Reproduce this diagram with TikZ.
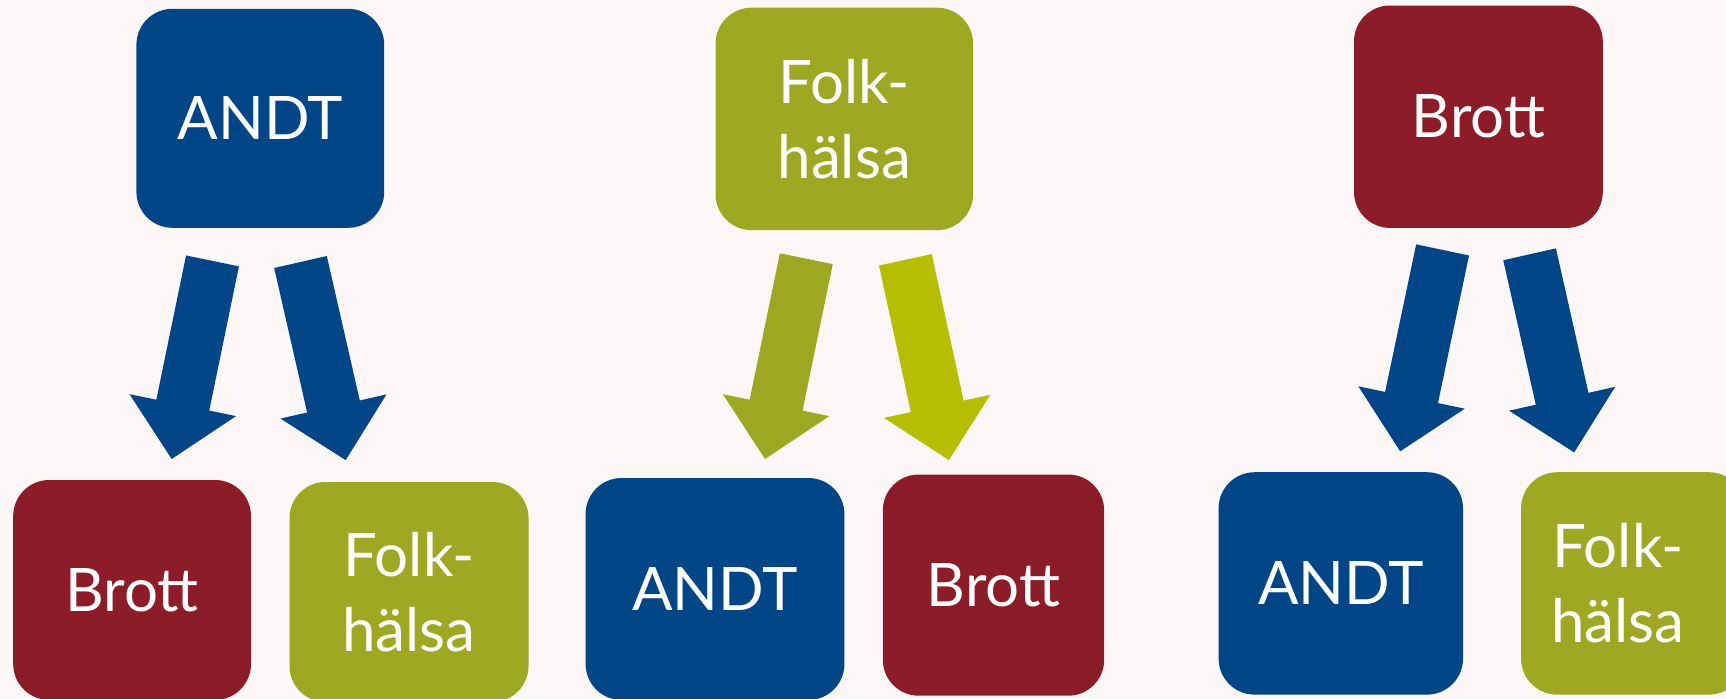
\documentclass[tikz,border=0pt]{standalone}
\usepackage{fontspec}
\setmainfont{Lato}
\usetikzlibrary{calc}
\definecolor{bgc}{RGB}{253,247,247}
\definecolor{andtblue}{RGB}{0,70,135}
\definecolor{brottred}{RGB}{140,28,40}
\definecolor{folkgreen}{RGB}{158,168,34}
\definecolor{limegreen}{RGB}{181,190,0}
\tikzset{
  box/.style={rectangle, rounded corners=18pt, inner sep=0pt, text=white,
    font=\fontsize{30}{37.5}\selectfont, align=center},
  boxtext/.style={inner sep=0pt, text=white, font=\fontsize{30}{37.5}\selectfont, align=center},
}
\newcommand\fatarrow[3]{%
  \coordinate (#1h) at ($(#2)!27.5pt!(#1)$);
  \fill[#3] ($(#1)!13.5pt!90:(#2)$) -- ($(#1h)!13.5pt!90:(#2)$) -- ($(#1h)!27.2pt!90:(#2)$)
    -- (#2) -- ($(#1h)!27.2pt!-90:(#2)$) -- ($(#1h)!13.5pt!-90:(#2)$)
    -- ($(#1)!13.5pt!-90:(#2)$) -- cycle;
}
\begin{document}
\begin{tikzpicture}[x=0.5pt,y=-0.5pt]
\useasboundingbox (0,0) rectangle (1726,698);
\fill[bgc] (0,0) rectangle (1726,698);
\begin{scope}
\clip (0,0) rectangle (1726,698);
% top row
\node[box, fill=andtblue, minimum width=123.9pt, minimum height=109.5pt] (t1) at (260.3,118.3) {ANDT};
\node[box, fill=folkgreen, minimum width=128.8pt, minimum height=111.2pt] (t2) at (844.3,118.9) {Folk-\\hälsa};
\node[box, fill=brottred, minimum width=124.4pt, minimum height=111.2pt] (t3) at (1478.4,116.7) {Brott};
% bottom row
\node[box, fill=brottred, minimum width=118.9pt, minimum height=110pt] (b1) at (132.1,590) {Brott};
\node[box, fill=folkgreen, minimum width=119.5pt, minimum height=110pt] (b2) at (409,592) {Folk-\\hälsa};
\node[box, fill=andtblue, minimum width=129.4pt, minimum height=111pt] (b3) at (715,589) {ANDT};
\node[box, fill=brottred, minimum width=110.7pt, minimum height=110.6pt] (b4) at (993.5,585.1) {Brott};
\node[box, fill=andtblue, minimum width=122.2pt, minimum height=111.2pt] (b5) at (1340.8,583.4) {ANDT};
\node[box, fill=folkgreen, minimum width=111.9pt, minimum height=111.2pt] (b6) at (1633,583.4) {};
\node[boxtext] (b6t) at (1618,583.4) {Folk-\\hälsa};
\end{scope}
% arrows
\coordinate (a1s) at (212.5,260.9); \coordinate (a1e) at (171.7,459.0);
\coordinate (a2s) at (300.5,262.0); \coordinate (a2e) at (345.7,460.1);
\coordinate (a3s) at (806.3,258.7); \coordinate (a3e) at (765.0,459.0);
\coordinate (a4s) at (905.4,259.8); \coordinate (a4e) at (948.9,460.1);
\coordinate (a5s) at (1442.6,249.9); \coordinate (a5e) at (1400.2,451.3);
\coordinate (a6s) at (1529.6,254.3); \coordinate (a6e) at (1574.2,452.4);
\fatarrow{a1s}{a1e}{andtblue}
\fatarrow{a2s}{a2e}{andtblue}
\fatarrow{a3s}{a3e}{folkgreen}
\fatarrow{a4s}{a4e}{limegreen}
\fatarrow{a5s}{a5e}{andtblue}
\fatarrow{a6s}{a6e}{andtblue}
\end{tikzpicture}
\end{document}
